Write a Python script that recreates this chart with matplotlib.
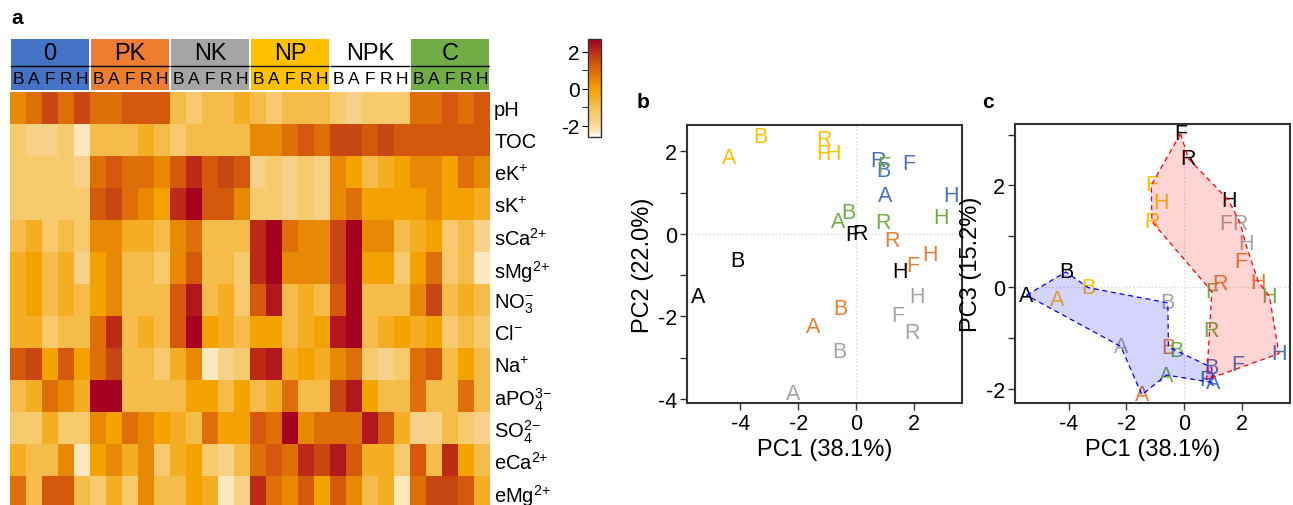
import numpy as np
import matplotlib.pyplot as plt
from matplotlib.colors import LinearSegmentedColormap
from matplotlib.patches import Rectangle, Polygon

plt.rcParams['font.family'] = ['Liberation Sans', 'DejaVu Sans']
plt.rcParams['mathtext.fontset'] = 'custom'
plt.rcParams['mathtext.rm'] = 'Liberation Sans'
plt.rcParams['mathtext.it'] = 'Liberation Sans'
plt.rcParams['axes.unicode_minus'] = False

# ---- data ----
treatments = ['0', 'PK', 'NK', 'NP', 'NPK', 'C']
sites = ['B', 'A', 'F', 'R', 'H']
treat_colors = ['#4472C4', '#ED7D31', '#A5A5A5', '#FFC000', '#FFFFFF', '#70AD47']
text_colors = ['#4472C4', '#ED7D31', '#A5A5A5', '#FFC000', '#000000', '#70AD47']

variables = ['pH', 'TOC', r'eK$^{{+}}$', r'sK$^{{+}}$', r'sCa$^{2{+}}$', r'sMg$^{2{+}}$',
             r'NO$_3^{{-}}$', r'Cl$^{{-}}$', r'Na$^{{+}}$', r'aPO$_4^{3{-}}$',
             r'SO$_4^{2{-}}$', r'eCa$^{2{+}}$', r'eMg$^{2{+}}$']

# z-scores, rows = variables, columns = treatment x site (B A F R H)
z = np.array([
    [0.45, 0.9, 1.65, 0.9, 1.65, 0.9, 0.9, 1.3, 1.3, 1.3, -0.85, -1.3, -0.85, -0.85, -0.45,
     -0.85, -1.3, -0.85, -0.85, -0.85, -1.3, -1.75, -1.3, -1.3, -1.3, 0.9, 0.9, 1.3, 0.9, 1.3],
    [-1.3, -1.75, -1.75, -1.3, -2.3, -0.85, -0.85, -0.85, -0.45, -0.85, -1.3, -0.85, -0.85, -0.85, -0.85,
     0.45, 0.45, 0.9, 1.3, 0.9, 1.65, 1.65, 1.3, 1.65, 1.3, 1.3, 1.3, 1.3, 1.3, 1.3],
    [-1.3, -1.3, -1.3, -1.3, -1.75, 0.9, 1.3, 0.9, 0.9, 0.45, 1.3, 2.0, 1.3, 1.65, 1.3,
     -1.75, -1.3, -1.75, -1.3, -1.75, 0.45, 0.0, -0.85, -0.45, 0.0, 0.45, 0.45, 0.0, 0.9, 0.45],
    [-1.3, -1.3, -1.3, -1.3, -1.3, 1.3, 1.65, 0.9, 0.45, 0.0, 2.0, 2.65, 1.3, 1.3, 0.45,
     -1.3, -1.3, -1.75, -1.3, -1.75, 0.45, 0.9, 0.0, 0.0, 0.0, 0.0, 0.45, 0.0, 0.0, -0.45],
    [-0.85, -0.45, -1.3, -0.85, -1.3, 0.45, 0.45, -0.45, -0.45, -0.85, 0.45, 0.9, -0.85, -0.85, -0.85,
     2.0, 2.65, 0.9, 0.45, 0.45, 1.65, 2.65, 0.45, 0.45, -0.85, -0.45, 0.0, -1.3, -0.85, -1.75],
    [-0.45, 0.0, -0.85, -0.45, -1.75, 0.0, 0.45, -0.85, -0.85, -1.3, 0.45, 1.3, -0.85, -0.85, -1.3,
     2.0, 2.65, 0.45, 0.45, 0.45, 1.65, 2.65, 0.0, 0.0, -1.3, 0.0, 0.9, -1.3, -0.85, -2.3],
    [-0.45, 0.0, -0.85, -0.45, -0.85, 0.0, 0.45, -0.85, -0.85, -0.85, 1.3, 2.3, -0.85, -0.45, -1.3,
     1.3, 2.3, -0.85, -0.45, -0.85, 1.3, 2.65, -0.85, -0.85, -0.85, 0.45, 1.65, -0.85, -0.45, -0.85],
    [-0.45, -0.45, -1.3, -0.85, -0.85, 0.9, 2.0, -0.85, -0.45, -0.85, 1.3, 2.65, 0.0, -0.45, -0.85,
     0.0, 0.0, -0.85, -0.45, 0.0, 2.3, 2.65, -0.85, -0.45, 0.0, -0.45, 0.0, -1.3, -0.85, -1.3],
    [1.3, 1.65, 0.0, 1.3, 0.0, 0.9, 1.65, -0.85, -0.85, -1.3, -0.45, 0.45, -2.3, -1.75, -1.3,
     2.0, 2.3, -0.45, 0.0, -0.45, 0.45, 0.9, -1.3, -1.75, -1.3, 0.9, 1.3, -0.85, 0.0, -0.85],
    [-0.85, -0.45, 0.9, 0.45, -0.45, 2.65, 2.65, -0.85, -0.85, -0.85, -0.85, 0.0, 0.0, -0.85, 0.0,
     -0.85, -0.45, 0.9, -0.85, -0.85, 1.65, 2.3, 0.0, -0.85, -0.85, 0.9, -0.85, -0.85, 0.9, -0.85],
    [-1.3, -1.3, -0.45, -1.3, -1.3, 0.45, 0.0, 0.9, 0.45, 0.0, -0.45, -0.85, 0.9, 0.0, 0.0,
     1.3, 0.9, 2.65, 0.45, 0.9, 0.9, 0.9, 2.3, 1.3, -0.45, -1.75, -1.75, -0.85, -1.3, -1.75],
    [-0.45, -0.85, -0.85, 0.45, -2.3, 0.0, 0.45, -0.45, 0.45, -1.3, -0.45, 0.0, -1.3, -1.75, -0.85,
     0.9, 1.3, 0.9, 2.0, 1.65, 2.3, 1.3, -0.45, -0.45, -1.3, 1.3, -0.85, 2.0, 0.0, -0.85],
    [0.9, -0.85, 1.3, 1.3, -0.85, -1.3, -0.45, -1.3, 0.45, -0.85, -0.85, 0.0, -0.45, -2.3, -1.75,
     2.0, 0.9, 0.45, 1.3, 0.0, 1.3, 0.45, -0.85, -0.45, -2.3, 0.9, 1.65, 1.65, 1.3, -0.45],
])

# PCA scores, order: treatment x site (B A F R H)
pc1 = np.array([0.94, 1.00, 1.83, 0.77, 3.27,
                -0.55, -1.47, 1.95, 1.24, 2.56,
                -0.57, -2.19, 1.43, 1.94, 2.12,
                -3.32, -4.40, -1.14, -1.12, -0.80,
                -4.09, -5.45, -0.13, 0.14, 1.53,
                -0.28, -0.62, 0.95, 0.93, 2.94])
pc2 = np.array([1.53, 0.93, 1.70, 1.78, 0.93,
                -1.80, -2.24, -0.77, -0.16, -0.51,
                -2.85, -3.88, -1.98, -2.40, -1.51,
                2.37, 1.84, 1.96, 2.29, 1.96,
                -0.64, -1.51, -0.02, 0.02, -0.91,
                0.53, 0.30, 1.66, 0.28, 0.40])
pc3 = np.array([-1.58, -1.88, -1.53, -1.82, -1.31,
                -1.18, -2.12, 0.50, 0.07, 0.10,
                -0.31, -1.17, 1.25, 1.25, 0.85,
                -0.01, -0.24, 2.01, 1.29, 1.66,
                0.30, -0.16, 3.02, 2.53, 1.71,
                -1.25, -1.73, -0.09, -0.85, -0.18])

# outline order of the two groups in panel c (treatment, site)
group_AB = [('NPK', 'A'), ('NPK', 'B'), ('NP', 'B'), ('NK', 'B'), ('PK', 'B'), ('C', 'B'),
            ('0', 'B'), ('0', 'A'), ('C', 'A'), ('PK', 'A'), ('NK', 'A')]
group_FRH = [('NPK', 'F'), ('NPK', 'R'), ('NPK', 'H'), ('NK', 'R'), ('NK', 'H'), ('PK', 'H'),
             ('C', 'H'), ('0', 'H'), ('0', 'R'), ('C', 'F'), ('NP', 'R'), ('NP', 'F')]

cmap = LinearSegmentedColormap.from_list('heat', [
    (0.00, '#FFFFFF'), (0.06, '#FCE5B8'), (0.16, '#F9D28A'), (0.245, '#F8CA6E'),
    (0.33, '#F5BC4A'), (0.406, '#F5AE22'), (0.49, '#F5A300'), (0.575, '#E88A05'),
    (0.66, '#DF7008'), (0.736, '#D55A0C'), (0.802, '#C94712'), (0.868, '#BE2C16'),
    (0.925, '#B2181C'), (1.00, '#A50021')])
vmin, vmax = -2.6, 2.7

W, H = 1293, 506
fig = plt.figure(figsize=(W / 100, H / 100), dpi=100)


def fx(px):
    return px / W


def fy(py):
    return 1 - py / H


# ---- panel a: heatmap ----
ax = fig.add_axes([fx(10), fy(508.5), 480 / W, 416 / H])
im = ax.imshow(z, cmap=cmap, vmin=vmin, vmax=vmax, aspect='auto',
               interpolation='nearest', extent=(0, 30, 13, 0))
ax.set_xlim(0, 30)
ax.set_ylim(13, 0)
ax.set_xticks([])
ax.yaxis.tick_right()
ax.set_yticks(np.arange(13) + 0.5)
ax.set_yticklabels(variables, fontsize=14.5)
ax.tick_params(axis='y', length=0, pad=3)
for s in ax.spines.values():
    s.set_visible(False)

hx = fig.add_axes([fx(10), fy(90.5), 480 / W, 50.5 / H])
hx.set_xlim(0, 30)
hx.set_ylim(50.5, 0)
hx.axis('off')
for i, t in enumerate(treatments):
    hx.add_patch(Rectangle((5 * i + 0.06, 0), 4.88, 50.5, facecolor=treat_colors[i],
                           edgecolor='none'))
    hx.plot([5 * i + 0.06, 5 * i + 4.94], [27, 27], color='black', lw=1)
    hx.text(5 * i + 2.5, 14, t, ha='center', va='center', fontsize=17)
    for j, s in enumerate(sites):
        hx.text(5 * i + j + 0.5, 39.5, s, ha='center', va='center', fontsize=12.5)

fig.text(fx(11), fy(18), 'a', fontsize=15, fontweight='bold', va='center')

# colour key
cax = fig.add_axes([fx(588), fy(138), 13 / W, 98 / H])
cb = fig.colorbar(im, cax=cax)
cb.set_ticks([-2, 0, 2])
cax.yaxis.set_ticks_position('left')
cax.set_yticks([-1, 1], minor=True)
cax.tick_params(axis='y', which='both', length=4, labelsize=15, pad=2)
cb.outline.set_edgecolor('#333333')
cb.outline.set_linewidth(1)

# ---- panels b and c ----
idx = {(t, s): 5 * i + j for i, t in enumerate(treatments) for j, s in enumerate(sites)}


def pca_panel(rect, yvals, ylim, yticks, ylabels, ylab, letter, lx):
    a = fig.add_axes(rect)
    a.axvline(0, color='#D5D5D5', ls=':', lw=1, zorder=0)
    a.axhline(0, color='#D5D5D5', ls=':', lw=1, zorder=0)
    for i, t in enumerate(treatments):
        for j, s in enumerate(sites):
            k = 5 * i + j
            a.text(pc1[k], yvals[k], s, color=text_colors[i], fontsize=15.5,
                   ha='center', va='center', zorder=2)
    a.set_xlim(-5.85, 3.65)
    a.set_ylim(*ylim)
    a.set_xticks([-4, -2, 0, 2])
    a.set_yticks(yticks)
    a.set_yticklabels(ylabels)
    a.tick_params(labelsize=15.5, length=5, width=1, color='#333333', pad=2)
    a.set_xlabel('PC1 (38.1%)', fontsize=17, labelpad=3)
    a.set_ylabel(ylab, fontsize=17, labelpad=3)
    for sp in a.spines.values():
        sp.set_linewidth(1.5)
        sp.set_color('#333333')
    fig.text(lx, fy(103), letter, fontsize=15, fontweight='bold', va='center')
    return a


bx = pca_panel([fx(686.7), fy(404), 275 / W, 278 / H], pc2, (-4.1, 2.64),
               [-4, -3, -2, -1, 0, 1, 2], ['-4', '', '-2', '', '0', '', '2'],
               'PC2 (22.0%)', 'b', fx(637))

cx = pca_panel([fx(1015), fy(404), 275 / W, 279 / H], pc3, (-2.28, 3.21),
               [-2, -1, 0, 1, 2, 3], ['-2', '', '0', '', '2', ''],
               'PC3 (15.2%)', 'c', fx(982))

for members, col in [(group_AB, 'blue'), (group_FRH, 'red')]:
    pts = [(pc1[idx[m]], pc3[idx[m]]) for m in members]
    cx.add_patch(Polygon(pts, closed=True, facecolor=col, alpha=0.17,
                         edgecolor='none', zorder=3))
    cx.add_patch(Polygon(pts, closed=True, facecolor='none', edgecolor=col,
                         ls=(0, (4, 3)), lw=0.9, zorder=3))

fig.savefig('out.png', dpi=100)
